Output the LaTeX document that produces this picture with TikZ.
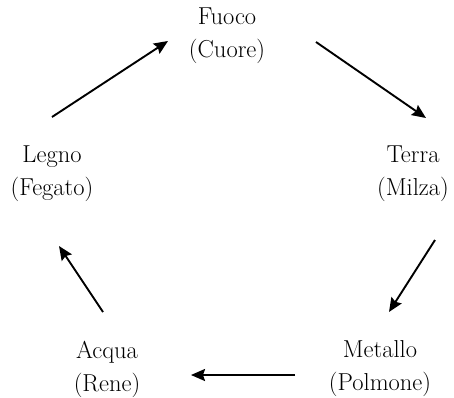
\documentclass[tikz,border=0pt]{standalone}
\usepackage{fontspec}
\setmainfont{Latin Modern Roman}
\usetikzlibrary{arrows.meta}
\begin{document}
\begin{tikzpicture}[x=1pt,y=-1pt,
  elem/.style={align=center,font=\fontsize{24.5}{33}\selectfont,inner sep=0pt,text=black},
  cyc/.style={line width=1.9pt,-{Stealth[length=14pt,width=12pt,inset=2pt]},black}]
\useasboundingbox (0,0) rectangle (454,397);
\node[elem] (fuoco) at (227,36) {Fuoco\\(Cuore)};
\node[elem] (terra) at (413,174) {Terra\\(Milza)};
\node[elem] (metallo) at (380,369) {Metallo\\(Polmone)};
\node[elem] (acqua) at (107,369) {Acqua\\(Rene)};
\node[elem] (legno) at (52,174) {Legno\\(Fegato)};
\coordinate (lf1) at (52,117); \coordinate (lf2) at (168,41);
\coordinate (ft1) at (316,42); \coordinate (ft2) at (426,118);
\coordinate (tm1) at (435,240); \coordinate (tm2) at (389,312);
\coordinate (ma1) at (295,375); \coordinate (ma2) at (191,375);
\coordinate (al1) at (103,312); \coordinate (al2) at (59,246);
\draw[cyc] (lf1) -- (lf2);
\draw[cyc] (ft1) -- (ft2);
\draw[cyc] (tm1) -- (tm2);
\draw[cyc] (ma1) -- (ma2);
\draw[cyc] (al1) -- (al2);
\end{tikzpicture}
\end{document}
